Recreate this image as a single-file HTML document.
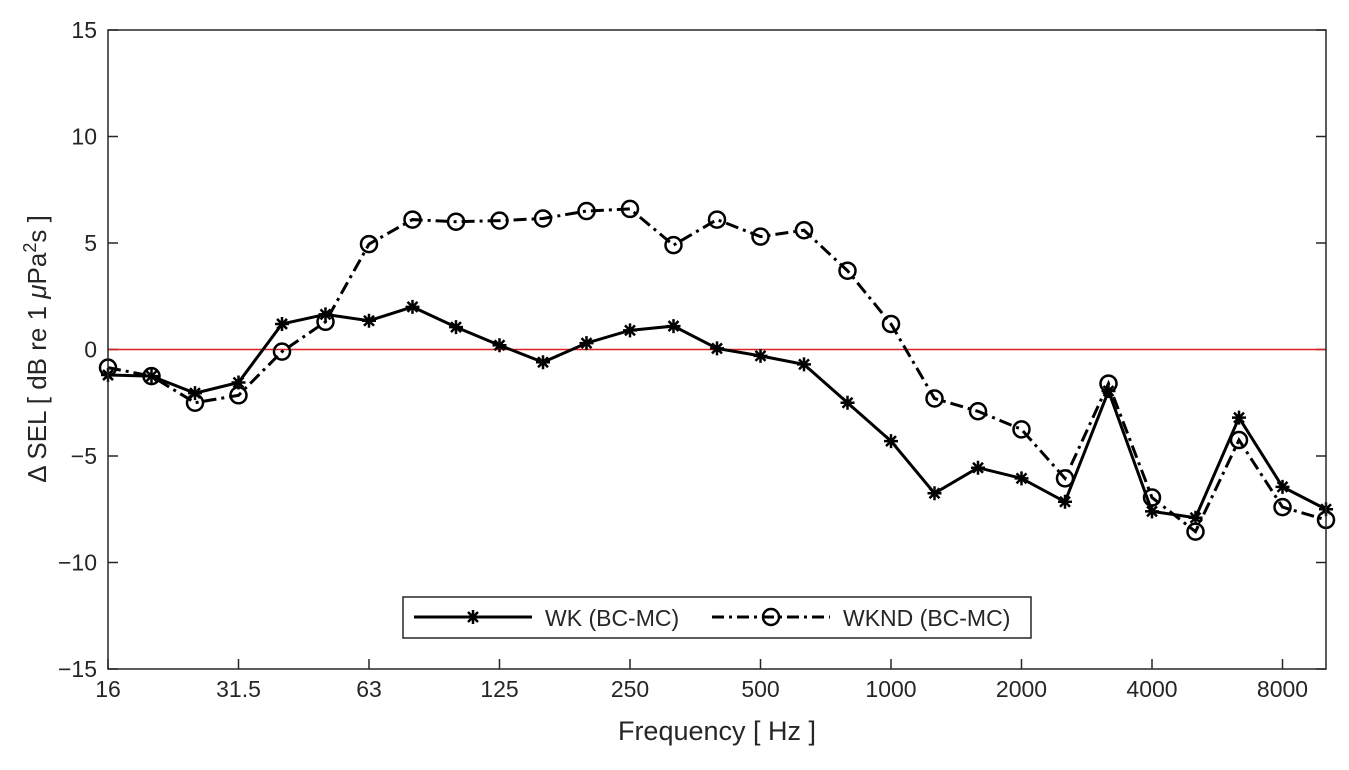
<!DOCTYPE html>
<html><head><meta charset="utf-8"><style>
body{margin:0;background:#fff}
svg text{font-family:"Liberation Sans",sans-serif;fill:#262626}
</style></head><body>
<svg id="c" width="1349" height="765" xmlns="http://www.w3.org/2000/svg">
<g id="grid"></g>
<g id="series"></g>
<rect x="108" y="30" width="1218" height="639" fill="none" stroke="#262626" stroke-width="1.5"/>
<text x="717" y="740" font-size="27" text-anchor="middle">Frequency [ Hz ]</text>
<text transform="translate(46,349) rotate(-90)" font-size="26" text-anchor="middle">Δ SEL [ dB re 1 <tspan font-style="italic">μ</tspan>Pa<tspan dy="-10" font-size="18">2</tspan><tspan dy="10">s ]</tspan></text>
<g>
<rect x="403" y="597" width="628" height="41" fill="#fff" stroke="#262626" stroke-width="1.5"/>
<line x1="414" y1="617" x2="532" y2="617" stroke="#000" stroke-width="3"/>
<g id="legmark1"></g>
<text x="545" y="626" font-size="23">WK (BC-MC)</text>
<line x1="712" y1="617" x2="830" y2="617" stroke="#000" stroke-width="3" stroke-dasharray="12,5,3,5"/>
<circle cx="771" cy="617" r="8" fill="none" stroke="#000" stroke-width="2.5"/>
<text x="843" y="626" font-size="23">WKND (BC-MC)</text>
</g>
</svg>
<script>
const bands=["16","20","25","31.5","40","50","63","80","100","125","160","200","250","315","400","500","630","800","1000","1250","1600","2000","2500","3150","4000","5000","6300","8000","10000"];
const xTickLabels=["16","31.5","63","125","250","500","1000","2000","4000","8000"];
const yTicks=[-15,-10,-5,0,5,10,15];
const wk=[-1.2,-1.25,-2.05,-1.55,1.2,1.65,1.35,2.0,1.05,0.2,-0.6,0.3,0.9,1.1,0.05,-0.3,-0.7,-2.5,-4.3,-6.75,-5.55,-6.05,-7.15,-1.95,-7.6,-7.9,-3.2,-6.45,-7.5];
const wknd=[-0.85,-1.25,-2.5,-2.15,-0.1,1.3,4.95,6.1,6.0,6.05,6.15,6.5,6.6,4.9,6.1,5.3,5.6,3.7,1.2,-2.3,-2.9,-3.75,-6.05,-1.6,-6.95,-8.55,-4.25,-7.4,-8.0];
const NS="http://www.w3.org/2000/svg";
const x0=108,x1=1326,yTop=30,yBot=669;
const X=i=>x0+(x1-x0)*i/(bands.length-1);
const Y=v=>yBot-(v+15)/30*(yBot-yTop);
function mk(tag,attrs,parent){const e=document.createElementNS(NS,tag);for(const k in attrs)e.setAttribute(k,attrs[k]);parent.appendChild(e);return e;}
const g=document.getElementById('grid'),s=document.getElementById('series');
yTicks.forEach(v=>{
 const l=mk('line',{x1:x0,x2:x0+10,y1:Y(v),y2:Y(v),stroke:'#262626','stroke-width':1.5},g);
 
 const l2=mk('line',{x1:x1-10,x2:x1,y1:Y(v),y2:Y(v),stroke:'#262626','stroke-width':1.5},g);
 
 const t=mk('text',{x:97,y:Y(v)+8,'font-size':23,'text-anchor':'end'},g);
 
 t.textContent=(v<0?'\u2212'+(-v):v);
});
xTickLabels.forEach(lb=>{
 const i=bands.indexOf(lb);
 const l=mk('line',{x1:X(i),x2:X(i),y1:yBot,y2:yBot-10,stroke:'#262626','stroke-width':1.5},g);
 
 const t=mk('text',{x:X(i),y:yBot+28,'font-size':23,'text-anchor':'middle'},g);
 
 t.textContent=lb;
});
const zl=mk('line',{x1:x0,x2:x1,y1:Y(0),y2:Y(0),stroke:'#e02020','stroke-width':1.5},g);

function star(cx,cy,p){const r=7,d=5;
 const el=mk('path',{d:`M${cx-r},${cy}H${cx+r}M${cx},${cy-r}V${cy+r}M${cx-d},${cy-d}L${cx+d},${cy+d}M${cx-d},${cy+d}L${cx+d},${cy-d}`,stroke:'#000','stroke-width':2.5,fill:'none'},p);return el;}
star(473,617,document.getElementById('legmark1'));
const p1=mk('polyline',{points:wk.map((v,i)=>X(i)+','+Y(v)).join(' '),fill:'none',stroke:'#000','stroke-width':3},s);

const p2=mk('polyline',{points:wknd.map((v,i)=>X(i)+','+Y(v)).join(' '),fill:'none',stroke:'#000','stroke-width':3,'stroke-dasharray':'13,5,3,5'},s);

wk.forEach((v,i)=>{const m=star(X(i),Y(v),s);
 });
wknd.forEach((v,i)=>{const c=mk('circle',{cx:X(i),cy:Y(v),r:8,fill:'none',stroke:'#000','stroke-width':2.5},s);
 });
</script>
</body></html>
